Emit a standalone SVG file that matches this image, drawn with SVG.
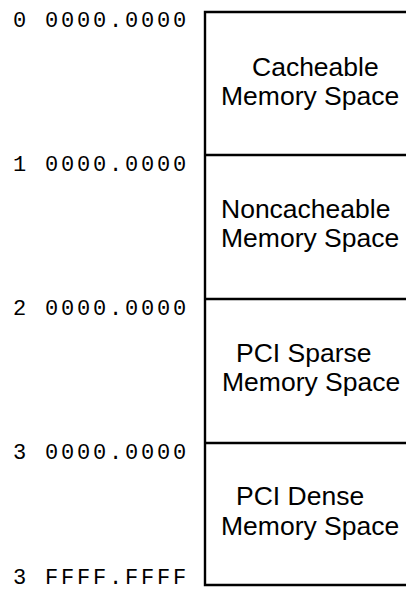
<svg xmlns="http://www.w3.org/2000/svg" width="406" height="592" viewBox="0 0 406 592">
<style>
.addr{font-family:"Liberation Mono","DejaVu Sans Mono",monospace;font-size:22px;letter-spacing:2.8px;fill:#000}
.lbl{font-family:"Liberation Sans",Arial,sans-serif;font-size:26.5px;fill:#000}
.ln{stroke:#000;stroke-width:2.4;fill:none}
</style>
<rect width="406" height="592" fill="#fff"/>
<g id="connectors">
<path class="ln" d="M406,12 H205 V585 H406"/>
<path class="ln" d="M205,155 H406"/>
<path class="ln" d="M205,299 H406"/>
<path class="ln" d="M205,443 H406"/>
</g>
<g id="addresses">
<text class="addr" x="13" y="27">0 0000.0000</text>
<text class="addr" x="13" y="171">1 0000.0000</text>
<text class="addr" x="13" y="315">2 0000.0000</text>
<text class="addr" x="13" y="459">3 0000.0000</text>
<text class="addr" x="13" y="584">3 FFFF.FFFF</text>
</g>
<g id="cacheable">
<text class="lbl" x="252" y="76">Cacheable</text>
<text class="lbl" x="221" y="105">Memory Space</text>
</g>
<g id="noncacheable">
<text class="lbl" x="221" y="218">Noncacheable</text>
<text class="lbl" x="221" y="247">Memory Space</text>
</g>
<g id="pci-sparse">
<text class="lbl" x="236" y="362">PCI Sparse</text>
<text class="lbl" x="222" y="391">Memory Space</text>
</g>
<g id="pci-dense">
<text class="lbl" x="236" y="505">PCI Dense</text>
<text class="lbl" x="221" y="535">Memory Space</text>
</g>
</svg>
